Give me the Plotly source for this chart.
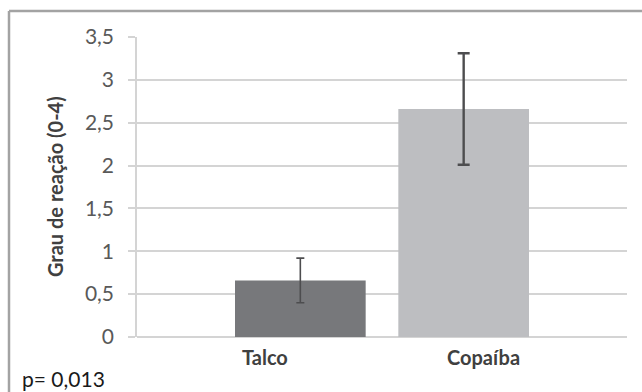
import plotly.graph_objects as go

# Data
categories = ["Talco", "Copaíba"]
means = [0.66, 2.66]
errors = [0.26, 0.65]
bar_colors = ["#77787b", "#bdbec1"]
err_thickness = [1.6, 2.4]
err_widths = [4, 6]
label_shift = [-35, 20]
y_ticks = [0, 0.5, 1, 1.5, 2, 2.5, 3, 3.5]
p_text = "p= 0,013"
y_title = "Grau de reação (0-4)"

FONT = "Lato"
W, H = 642, 392
ML, MR, MT, MB = 137, 15, 37, 55
PW, PH = W - ML - MR, H - MT - MB

fig = go.Figure()
for i, cat in enumerate(categories):
    fig.add_trace(go.Bar(
        x=[cat], y=[means[i]],
        width=0.8,
        marker=dict(color=bar_colors[i], line=dict(width=0)),
        error_y=dict(type="data", array=[errors[i]], visible=True,
                     color="#4d4d4f", thickness=err_thickness[i],
                     width=err_widths[i]),
        showlegend=False,
    ))

# category labels under each bar
for i, cat in enumerate(categories):
    fig.add_annotation(
        x=cat, xref="x", y=0, yref="y", yshift=-20, xshift=label_shift[i],
        text=f"<b>{cat}</b>", showarrow=False,
        font=dict(family=FONT, size=20, color="#404040"),
        xanchor="center", yanchor="middle",
    )

# y-axis title
fig.add_annotation(
    x=(55 - ML) / PW, xref="paper", y=0.5, yref="paper",
    text=f"<b>{y_title}</b>", textangle=-90, showarrow=False,
    font=dict(family=FONT, size=20, color="#404040"),
    xanchor="center", yanchor="middle",
)

# p-value note
fig.add_annotation(
    x=(20 - ML) / PW, xref="paper", y=(H - 378 - MB) / PH, yref="paper",
    text=p_text, showarrow=False,
    font=dict(family=FONT, size=21, color="#1a1a1a"),
    xanchor="left", yanchor="middle",
)

# chart frame (top and left edges)
x_left = (9 - ML) / PW
y_top = (H - MB - 11) / PH
fig.add_shape(type="line", xref="paper", yref="paper",
              x0=x_left, x1=1.2, y0=y_top, y1=y_top,
              line=dict(color="#a3a3a3", width=2.5))
fig.add_shape(type="line", xref="paper", yref="paper",
              x0=x_left, x1=x_left, y0=y_top, y1=-0.3,
              line=dict(color="#a3a3a3", width=2.5))

fig.update_layout(
    width=W, height=H,
    margin=dict(l=ML, r=MR, t=MT, b=MB, pad=0),
    paper_bgcolor="white", plot_bgcolor="white",
    barmode="overlay",
    separators=",.",
    font=dict(family=FONT),
    xaxis=dict(
        type="category", range=[-1, 2], showticklabels=False,
        showgrid=False, zeroline=False, showline=False, ticks="",
        fixedrange=True,
    ),
    yaxis=dict(
        range=[0, 3.5], tickvals=y_ticks,
        ticks="outside", ticklen=7, tickcolor="#d4d4d4", tickwidth=1.5,
        ticklabelstandoff=10,
        tickfont=dict(family=FONT, size=21, color="#595959"),
        showgrid=True, gridcolor="#d4d4d4", gridwidth=1.5,
        zeroline=True, zerolinecolor="#d4d4d4", zerolinewidth=1.5,
        showline=True, linecolor="#d4d4d4", linewidth=1.5,
        fixedrange=True,
    ),
)

fig.write_html("out.html", config={"displayModeBar": False})
